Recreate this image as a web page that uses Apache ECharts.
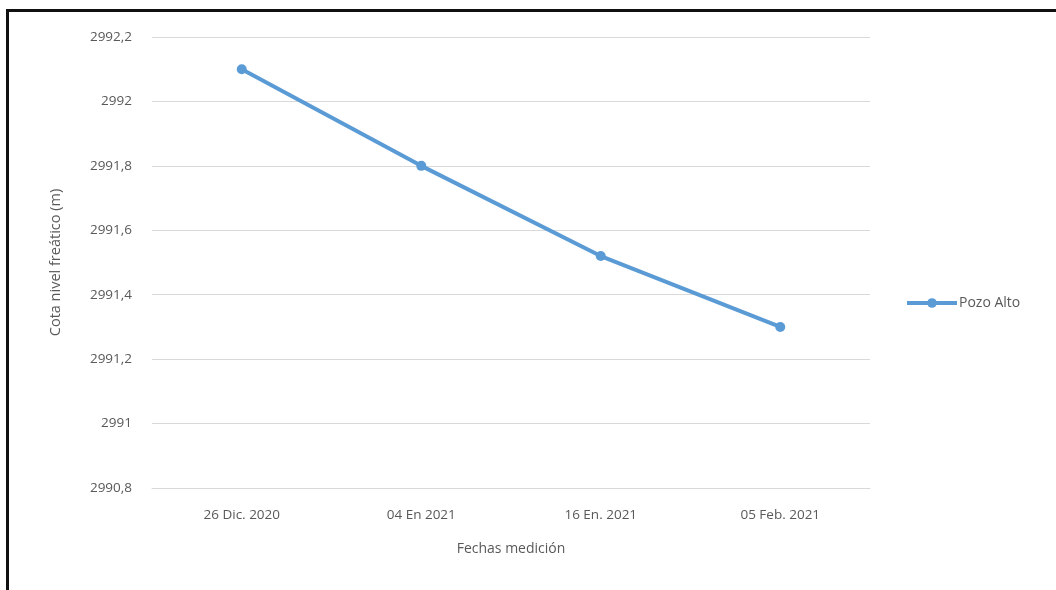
<!DOCTYPE html>
<html>
<head>
<meta charset="utf-8">
<script src="https://cdn.jsdelivr.net/npm/echarts@6/dist/echarts.min.js"></script>
<style>
html, body { margin: 0; padding: 0; background: #fff; }
#frame { position: absolute; left: 6px; top: 9px; width: 1100px; height: 640px; border-top: 3px solid #111; border-left: 3px solid #111; }
#main { position: absolute; left: 0; top: 0; width: 1056px; height: 590px; }
</style>
</head>
<body>
<div id="frame"></div>
<div id="main"></div>
<script>
// fechas y cotas del pozo
var fechas = [ '26 Dic. 2020', '04 En 2021', '16 En. 2021', '05 Feb. 2021' ];
var pozoAlto = [ 2992.1, 2991.8, 2991.52, 2991.3 ];

var myChart = echarts.init(document.getElementById('main'));
var fuente = 'Open Sans';
option = {
	backgroundColor : 'transparent',
	textStyle : {
		fontFamily : fuente
	},
	legend : {
		orient : 'vertical',
		left : 905,
		top : 296,
		padding : 0,
		itemWidth : 50,
		itemHeight : 12,
		itemGap : 4,
		lineStyle : {
			width : 4
		},
		textStyle : {
			color : '#595959',
			fontSize : 14,
			padding : [ 0, 0, 0, -3 ],
			fontFamily : fuente
		},
		data : [ 'Pozo Alto' ]
	},
	grid : {
		left : 152,
		right : 186,
		top : 37,
		bottom : 102
	},
	xAxis : {
		type : 'category',
		data : fechas,
		name : 'Fechas medición',
		nameLocation : 'middle',
		nameGap : 54,
		nameTextStyle : {
			color : '#595959',
			fontSize : 14,
			fontFamily : fuente
		},
		axisLine : {
			show : true,
			lineStyle : {
				color : '#d9d9d9'
			}
		},
		axisTick : {
			show : false
		},
		axisLabel : {
			color : '#595959',
			fontSize : 13.5,
			margin : 20,
			fontFamily : fuente
		}
	},
	yAxis : {
		type : 'value',
		min : 2990.8,
		max : 2992.2,
		interval : 0.2,
		name : 'Cota nivel freático (m)',
		nameLocation : 'middle',
		nameGap : 89,
		nameTextStyle : {
			color : '#595959',
			fontSize : 14.5,
			fontFamily : fuente
		},
		axisLine : {
			show : false
		},
		axisTick : {
			show : false
		},
		splitLine : {
			lineStyle : {
				color : '#d9d9d9',
				width : 1
			}
		},
		axisLabel : {
			color : '#595959',
			fontSize : 13.5,
			margin : 20,
			fontFamily : fuente,
			formatter : function(v) {
				return String(Number(v.toFixed(1))).replace('.', ',');
			}
		}
	},
	series : [ {
		name : 'Pozo Alto',
		type : 'line',
		data : pozoAlto,
		symbol : 'circle',
		symbolSize : 10,
		itemStyle : {
			color : '#5b9bd5'
		},
		lineStyle : {
			color : '#5b9bd5',
			width : 4
		},
		animation : false
	} ]
};
myChart.setOption(option);
</script>
</body>
</html>
